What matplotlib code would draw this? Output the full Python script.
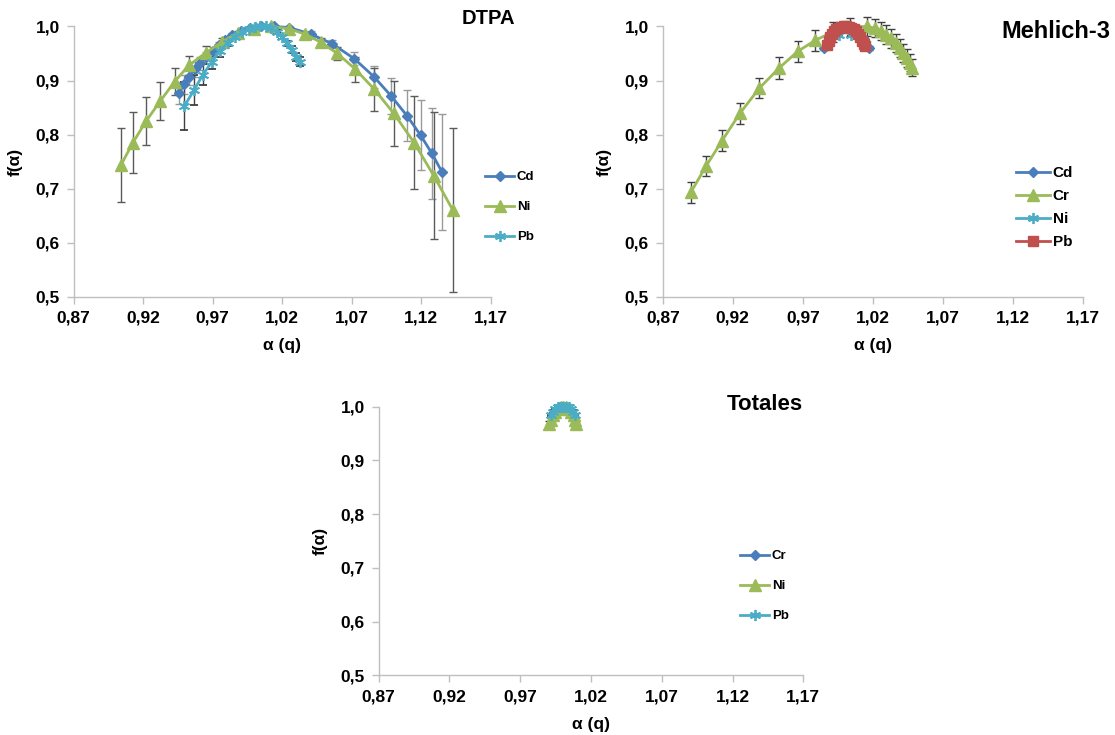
import numpy as np
import matplotlib.pyplot as plt
from matplotlib.ticker import FixedLocator, FuncFormatter

plt.rcParams['font.family'] = ['Liberation Sans', 'DejaVu Sans']
plt.rcParams['font.weight'] = 'bold'

BLUE = '#4a7ebb'
GREEN = '#9bbb59'
AQUA = '#4bacc6'
RED = '#c0504d'

# ---- DTPA ----
dtpa_cd_a = [0.9458, 0.9495, 0.9532, 0.9570, 0.9610, 0.9655, 0.9700, 0.9745, 0.9790, 0.9840,
             0.9900, 0.9970, 1.0050, 1.0140, 1.0250, 1.0405, 1.0560, 1.0720, 1.0860, 1.0985,
             1.1097, 1.1195, 1.1277, 1.1349]
dtpa_cd_f = [0.877, 0.893, 0.907, 0.921, 0.932, 0.943, 0.954, 0.965, 0.975, 0.984,
             0.992, 0.997, 1.000, 1.000, 0.998, 0.986, 0.968, 0.940, 0.907, 0.871,
             0.835, 0.799, 0.765, 0.731]
dtpa_cd_err = [0.020, 0.018, 0.016, 0.014, 0.012, 0.010, 0.008, 0.006, 0.005, 0.004,
               0.003, 0.002, 0.001, 0.001, 0.003, 0.005, 0.007, 0.012, 0.020, 0.033,
               0.047, 0.065, 0.084, 0.107]

dtpa_ni_a = [0.9041, 0.9126, 0.9221, 0.9323, 0.9426, 0.9528, 0.9649, 0.9764, 0.9879, 0.9995,
             1.0118, 1.0246, 1.0362, 1.0477, 1.0597, 1.0726, 1.0862, 1.1003, 1.1149, 1.1290,
             1.1426]
dtpa_ni_f = [0.744, 0.785, 0.825, 0.862, 0.898, 0.928, 0.951, 0.971, 0.988, 0.996,
             1.000, 0.996, 0.986, 0.971, 0.950, 0.921, 0.884, 0.839, 0.785, 0.724,
             0.661]
dtpa_ni_err = [0.069, 0.056, 0.045, 0.035, 0.025, 0.017, 0.012, 0.007, 0.004, 0.002,
               0.001, 0.002, 0.004, 0.007, 0.012, 0.023, 0.040, 0.060, 0.086, 0.118,
               0.152]

dtpa_pb_a = [0.9497, 0.9567, 0.9630, 0.9695, 0.9750, 0.9810, 0.9860, 0.9910, 0.9964, 1.0003,
             1.0040, 1.0080, 1.0120, 1.0160, 1.0196, 1.0232, 1.0268, 1.0300, 1.0328]
dtpa_pb_f = [0.853, 0.883, 0.911, 0.935, 0.954, 0.970, 0.981, 0.989, 0.996, 0.999,
             1.000, 1.000, 0.9975, 0.990, 0.981, 0.969, 0.957, 0.944, 0.935]
dtpa_pb_err = [0.045, 0.028, 0.020, 0.014, 0.010, 0.007, 0.005, 0.003, 0.002, 0.001,
               0.001, 0.001, 0.002, 0.003, 0.004, 0.005, 0.006, 0.007, 0.008]

# ---- Mehlich-3 ----
meh_cd_a = [0.9852, 0.9880, 0.9910, 0.9940, 0.9970, 1.0005, 1.0040, 1.0080, 1.0110, 1.0140, 1.0172]
meh_cd_f = [0.960, 0.972, 0.982, 0.990, 0.996, 1.000, 0.999, 0.995, 0.988, 0.977, 0.960]
meh_cd_err = [0.004, 0.003, 0.003, 0.002, 0.001, 0.001, 0.001, 0.002, 0.003, 0.003, 0.004]

meh_cr_a = [0.8900, 0.9010, 0.9124, 0.9250, 0.9390, 0.9530, 0.9664, 0.9790, 0.9915, 1.0035,
            1.0155, 1.0215, 1.0255, 1.0295, 1.0330, 1.0362, 1.0392, 1.0418, 1.0442, 1.0462,
            1.0480]
meh_cr_f = [0.693, 0.742, 0.789, 0.839, 0.886, 0.923, 0.954, 0.9745, 0.990, 0.999,
            1.000, 0.997, 0.992, 0.985, 0.978, 0.969, 0.960, 0.951, 0.942, 0.933,
            0.924]
meh_cr_err = [0.019, 0.019, 0.019, 0.019, 0.019, 0.020, 0.019, 0.019, 0.018, 0.017,
              0.017, 0.017, 0.017, 0.017, 0.017, 0.017, 0.017, 0.017, 0.017, 0.016,
              0.015]

meh_ni_a = [0.9955, 0.9970, 0.9985, 1.0000, 1.0015, 1.0030, 1.0045]
meh_ni_f = [0.985, 0.993, 0.998, 1.000, 0.998, 0.993, 0.985]
meh_ni_err = [0.003, 0.002, 0.001, 0.001, 0.001, 0.002, 0.003]

meh_pb_a = [0.9875, 0.9885, 0.9897, 0.9910, 0.9925, 0.9940, 0.9957, 0.9975, 0.9993, 1.0010,
            1.0028, 1.0046, 1.0063, 1.0080, 1.0095, 1.0110, 1.0123, 1.0135, 1.0145]
meh_pb_f = [0.966, 0.973, 0.980, 0.986, 0.991, 0.995, 0.998, 0.9995, 1.000, 1.000,
            0.9995, 0.998, 0.995, 0.991, 0.986, 0.980, 0.974, 0.968, 0.963]
meh_pb_err = [0.003] * 19

# ---- Totales ----
tot_cr_a = [0.9940, 0.9960, 0.9980, 1.0000, 1.0020, 1.0040, 1.0060]
tot_cr_f = [0.990, 0.996, 0.999, 1.000, 0.999, 0.996, 0.990]
tot_cr_err = [0.002, 0.001, 0.001, 0.001, 0.001, 0.001, 0.002]

tot_ni_a = [0.9903, 0.9915, 0.9930, 0.9947, 0.9965, 0.9985, 1.0005, 1.0025, 1.0045, 1.0062,
            1.0077, 1.0088, 1.0096]
tot_ni_f = [0.968, 0.976, 0.984, 0.991, 0.996, 0.999, 1.000, 0.999, 0.996, 0.991,
            0.984, 0.976, 0.968]
tot_ni_err = [0.006, 0.005, 0.004, 0.003, 0.002, 0.001, 0.001, 0.001, 0.002, 0.003,
              0.004, 0.005, 0.006]

tot_pb_a = [0.9915, 0.9930, 0.9947, 0.9965, 0.9985, 1.0004, 1.0023, 1.0042, 1.0060, 1.0075, 1.0087]
tot_pb_f = [0.985, 0.991, 0.996, 0.999, 1.000, 1.000, 1.000, 0.999, 0.996, 0.991, 0.985]
tot_pb_err = [0.002] * 11

xticks = [0.87, 0.92, 0.97, 1.02, 1.07, 1.12, 1.17]
yticks = [0.5, 0.6, 0.7, 0.8, 0.9, 1.0]

STYLES = {
    'diamond': dict(marker='D', markersize=5.5),
    'triangle': dict(marker='^', markersize=8),
    'star': dict(marker=(6, 2, 0), markersize=8, markeredgewidth=1.3),
    'square': dict(marker='s', markersize=7),
}


def comma(v, nd):
    return f"{v:.{nd}f}".replace('.', ',')


def setup_axes(ax):
    ax.set_xlim(0.87, 1.17)
    ax.set_ylim(0.5, 1.0)
    ax.xaxis.set_major_locator(FixedLocator(xticks))
    ax.yaxis.set_major_locator(FixedLocator(yticks))
    ax.xaxis.set_major_formatter(FuncFormatter(lambda v, p: comma(v, 2)))
    ax.yaxis.set_major_formatter(FuncFormatter(lambda v, p: comma(v, 1)))
    for s in ('top', 'right'):
        ax.spines[s].set_visible(False)
    for s in ('left', 'bottom'):
        ax.spines[s].set_color('#bfbfbf')
        ax.spines[s].set_linewidth(1.0)
    ax.tick_params(direction='out', length=5, width=1.0, color='#bfbfbf',
                   labelsize=12.5, pad=5)
    ax.set_xlabel('α (q)', fontsize=12.5, fontweight='bold', labelpad=9)
    ax.set_ylabel('f(α)', fontsize=12.5, fontweight='bold', labelpad=9)
    ax.patch.set_alpha(0)


def series(ax, a, f, err, color, style, ecolor):
    cont = ax.errorbar(a, f, yerr=err, color=color, linewidth=2.0,
                       markerfacecolor=color, markeredgecolor=color,
                       ecolor=ecolor, elinewidth=1.0, capsize=3, capthick=1.0,
                       clip_on=False, **STYLES[style])
    return cont[0]


def add_legend(handles, labels, x, y, size, spacing):
    fig.legend(handles, labels, loc='upper left',
               bbox_to_anchor=(x / 1115, 1 - y / 735),
               frameon=False, handlelength=2.2, handletextpad=0.2,
               labelspacing=spacing, borderpad=0, borderaxespad=0,
               prop={'weight': 'bold', 'size': size})


fig = plt.figure(figsize=(11.15, 7.35), dpi=100)

# DTPA panel
ax1 = fig.add_axes([0.0661, 0.5963, 0.3740, 0.3677])
setup_axes(ax1)
h1 = [series(ax1, dtpa_cd_a, dtpa_cd_f, dtpa_cd_err, BLUE, 'diamond', '#9a9a9a'),
      series(ax1, dtpa_ni_a, dtpa_ni_f, dtpa_ni_err, GREEN, 'triangle', '#5a5a5a'),
      series(ax1, dtpa_pb_a, dtpa_pb_f, dtpa_pb_err, AQUA, 'star', '#404040')]
fig.text(515 / 1115, 1 - 19 / 735, 'DTPA', ha='right', va='center',
         fontsize=14.5, fontweight='bold')
add_legend(h1, ['Cd', 'Ni', 'Pb'], 485, 171, 9.5, 1.35)

# Mehlich-3 panel
ax2 = fig.add_axes([0.5944, 0.5963, 0.3769, 0.3677])
setup_axes(ax2)
h2 = [series(ax2, meh_cd_a, meh_cd_f, meh_cd_err, BLUE, 'diamond', '#404040'),
      series(ax2, meh_cr_a, meh_cr_f, meh_cr_err, GREEN, 'triangle', '#404040'),
      series(ax2, meh_ni_a, meh_ni_f, meh_ni_err, AQUA, 'star', '#404040'),
      series(ax2, meh_pb_a, meh_pb_f, meh_pb_err, RED, 'square', '#404040')]
fig.text(1110 / 1115, 1 - 31 / 735, 'Mehlich-3', ha='right', va='center',
         fontsize=17, fontweight='bold')
add_legend(h2, ['Cd', 'Cr', 'Ni', 'Pb'], 1016, 166, 11, 0.6)

# Totales panel
ax3 = fig.add_axes([0.3396, 0.0812, 0.3809, 0.3655])
setup_axes(ax3)
h3 = [series(ax3, tot_cr_a, tot_cr_f, tot_cr_err, BLUE, 'diamond', '#404040'),
      series(ax3, tot_ni_a, tot_ni_f, tot_ni_err, GREEN, 'triangle', '#404040'),
      series(ax3, tot_pb_a, tot_pb_f, tot_pb_err, AQUA, 'star', '#404040')]
fig.text(803 / 1115, 1 - 405 / 735, 'Totales', ha='right', va='center',
         fontsize=16, fontweight='bold')
add_legend(h3, ['Cr', 'Ni', 'Pb'], 740, 550, 9.5, 1.35)

fig.savefig('out.png', dpi=100)
